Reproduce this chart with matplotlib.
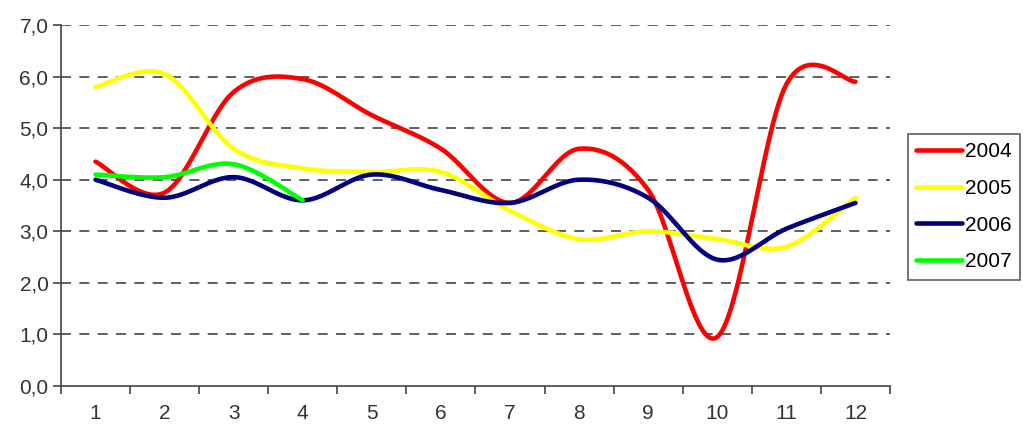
import numpy as np
import matplotlib.pyplot as plt
from matplotlib.ticker import FixedLocator, NullFormatter

plt.rcParams['font.family'] = ['Liberation Sans', 'DejaVu Sans']

months = list(range(1, 13))
y2004 = [4.35, 3.75, 5.7, 5.95, 5.25, 4.6, 3.55, 4.6, 3.8, 0.95, 5.85, 5.9]
y2005 = [5.8, 6.05, 4.6, 4.22, 4.15, 4.15, 3.4, 2.85, 3.0, 2.85, 2.7, 3.65]
y2006 = [4.0, 3.65, 4.05, 3.6, 4.1, 3.8, 3.55, 4.0, 3.65, 2.45, 3.05, 3.55]
y2007 = [4.1, 4.05, 4.3, 3.6]

series = [("2004", y2004, "#ff0000"),
          ("2005", y2005, "#ffff00"),
          ("2006", y2006, "#000080"),
          ("2007", y2007, "#00ff00")]


def smooth(xs, ys, n=30):
    # Catmull-Rom style bezier smoothing, like spreadsheet "smoothed lines"
    xs = np.asarray(xs, float)
    ys = np.asarray(ys, float)
    pts = np.column_stack([xs, ys])
    out = [pts[0]]
    t = np.linspace(0, 1, n)[1:, None]
    for i in range(len(pts) - 1):
        p0 = pts[i - 1] if i > 0 else pts[i]
        p1 = pts[i]
        p2 = pts[i + 1]
        p3 = pts[i + 2] if i + 2 < len(pts) else pts[i + 1]
        c1 = p1 + (p2 - p0) / 6
        c2 = p2 - (p3 - p1) / 6
        seg = ((1 - t) ** 3) * p1 + 3 * ((1 - t) ** 2) * t * c1 \
            + 3 * (1 - t) * t ** 2 * c2 + t ** 3 * p2
        out.extend(seg)
    out = np.array(out)
    return out[:, 0], out[:, 1]


fig = plt.figure(figsize=(10.23, 4.45), dpi=100)
ax = fig.add_axes([61 / 1023, 59 / 445, 829 / 1023, 361 / 445])

for name, ys, col in series:
    sx, sy = smooth(months[:len(ys)], ys)
    ax.plot(sx, sy, color=col, lw=3.3, label=name, solid_capstyle='round')

ax.set_xlim(0.5, 12.5)
ax.set_ylim(0, 7)
ax.set_yticks(np.arange(0, 8))
ax.set_yticklabels([f"{v:.1f}".replace('.', ',') for v in range(8)])
ax.set_xticks(months)
ax.set_xticklabels([str(m) for m in months])
ax.xaxis.set_minor_locator(FixedLocator(np.arange(0.5, 13, 1)))
ax.xaxis.set_minor_formatter(NullFormatter())
ax.tick_params(axis='x', which='major', length=0, pad=13, labelsize=15, colors='#333333')
ax.tick_params(axis='x', which='minor', length=6, width=1.2, color='#444444')
ax.tick_params(axis='y', length=6, width=1.2, color='#444444', labelsize=15,
               labelcolor='#333333', pad=3)

for v in range(1, 8):
    ax.axhline(v, color='#444444', lw=1.2, ls=(0, (6, 5)), zorder=0)

for s in ['top', 'right']:
    ax.spines[s].set_visible(False)
for s in ['left', 'bottom']:
    ax.spines[s].set_color('#444444')
    ax.spines[s].set_linewidth(1.2)

leg = fig.legend(loc='upper left', bbox_to_anchor=(908 / 1023, 1 - 134 / 445),
                 frameon=True, fancybox=False, fontsize=15, handlelength=2.2,
                 handletextpad=0.15, borderpad=0.4, labelspacing=0.85,
                 borderaxespad=0)
leg.get_frame().set_edgecolor('#333333')
leg.get_frame().set_linewidth(1.2)

fig.savefig("out.png", dpi=100)
